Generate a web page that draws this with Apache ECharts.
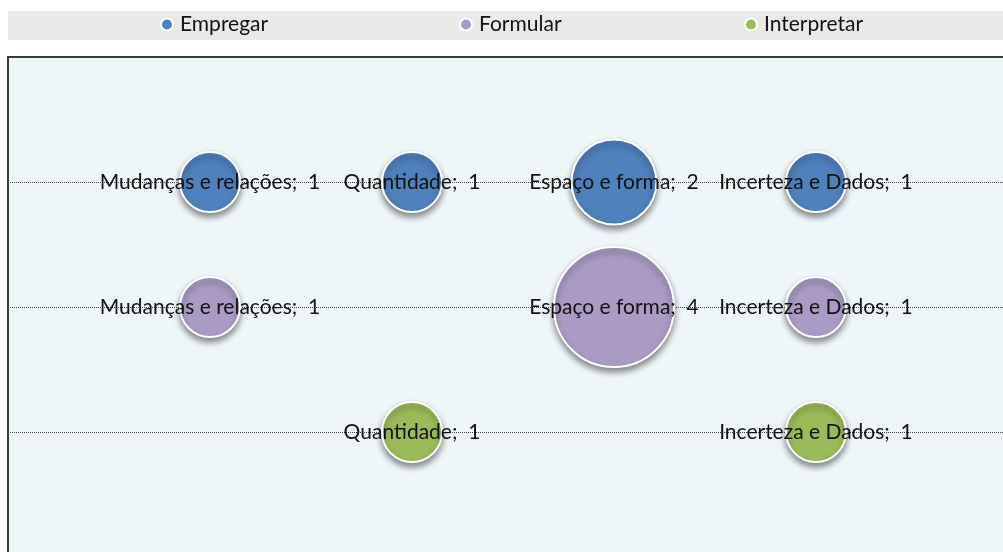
<!DOCTYPE html>
<html>
<head>
<meta charset="utf-8">
<script src="https://cdn.jsdelivr.net/npm/echarts@6/dist/echarts.min.js"></script>
<style>
  html, body { margin: 0; padding: 0; background: #fff; }
  #chart { width: 1003px; height: 552px; }
</style>
</head>
<body>
<div id="chart"></div>
<script>
const categories = ['Mudanças e relações', 'Quantidade', 'Espaço e forma', 'Incerteza e Dados'];
const seriesNames = ['Empregar', 'Formular', 'Interpretar'];
// one row per series, null = no bubble
const empregar = [1, 1, 2, 1];
const formular = [1, null, 4, 1];
const interpretar = [null, 1, null, 1];
const rowLevel = [3, 2, 1];

const colors = ['#4f81bd', '#a99bc4', '#9bbb59'];
const font = 'Lato';

function toPoints(values, row) {
  const pts = [];
  values.forEach((v, i) => {
    if (v != null) pts.push({ name: categories[i], value: [i + 1, row, v] });
  });
  return pts;
}

const rows = [empregar, formular, interpretar];

const series = rows.map((vals, k) => ({
  name: seriesNames[k],
  type: 'scatter',
  data: toPoints(vals, rowLevel[k]),
  symbolSize: d => 60 * Math.sqrt(d[2]),
  itemStyle: {
    color: colors[k],
    borderColor: '#fff',
    borderWidth: 2,
    shadowColor: 'rgba(0,0,0,0.45)',
    shadowBlur: 6,
    shadowOffsetY: 4,
    opacity: 1
  },
  label: {
    show: true,
    position: 'inside',
    formatter: p => p.name + ';  ' + p.value[2],
    color: '#111',
    fontFamily: font,
    fontSize: 21
  },
  // dotted row guide line
  markLine: {
    silent: true,
    symbol: 'none',
    label: { show: false },
    lineStyle: { type: 'dotted', color: '#444', width: 1 },
    data: [{ yAxis: rowLevel[k] }],
    z: 1
  },
  emphasis: { disabled: true }
}));

const legendLefts = [160, 459, 744];

const option = {
  animation: false,
  color: colors,
  graphic: [{
    type: 'rect',
    shape: { x: 8, y: 11, width: 995, height: 29 },
    style: { fill: '#e9e9e7' },
    z: -1
  }],
  legend: seriesNames.map((n, i) => ({
    data: [n],
    left: legendLefts[i],
    top: 14,
    icon: 'circle',
    itemWidth: 12,
    itemHeight: 12,
    itemGap: 0,
    padding: 0,
    textStyle: { fontFamily: font, fontSize: 21, color: '#111', padding: [0, 0, 0, 2] }
  })),
  grid: {
    left: 8,
    top: 57,
    right: 0,
    bottom: 0,
    show: true,
    backgroundColor: '#eef6f8',
    borderWidth: 0
  },
  xAxis: {
    type: 'value',
    min: 0,
    max: 4.926,
    position: 'top',
    axisLine: { show: true, onZero: false, lineStyle: { color: '#3a3a3a', width: 2 } },
    axisTick: { show: false },
    axisLabel: { show: false },
    splitLine: { show: false }
  },
  yAxis: {
    type: 'value',
    min: 0.04,
    max: 4,
    axisLine: { show: true, onZero: false, lineStyle: { color: '#3a3a3a', width: 2 } },
    axisTick: { show: false },
    axisLabel: { show: false },
    splitLine: { show: false }
  },
  series: series
};

const myChart = echarts.init(document.getElementById('chart'));
myChart.setOption(option);
</script>
</body>
</html>
